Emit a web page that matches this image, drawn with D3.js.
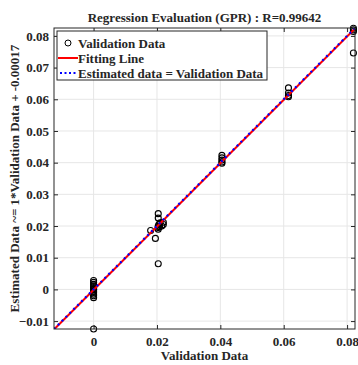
<!DOCTYPE html>
<html><head><meta charset="utf-8">
<script src="https://cdn.jsdelivr.net/npm/d3@7"></script>
<style>
html,body{margin:0;padding:0;background:#fff;}
svg text{font-family:"Liberation Serif","Times New Roman",serif;font-weight:bold;fill:#262626;}
</style></head>
<body><svg id="c" width="358" height="365"></svg>
<script>
// Validation (x) and estimated (y) values
const validation = [
  0,0,0,0,0,0,0,0,0,0,0,0,0,0,
  0.018,0.0195,0.0204,0.0204,0.0204,0.0204,0.0204,0.0204,0.0206,0.0208,0.021,0.022,0.022,0.0215,
  0.0405,0.0405,0.0405,0.0405,0.0405,
  0.0615,0.0615,0.0615,0.0615,
  0.082,0.082,0.082,0.082
];
const estimated = [
  0.0028,0.0022,0.0016,0.0011,0.0006,0.0002,-0.0002,-0.0006,-0.001,-0.0015,-0.002,-0.0026,0.0,-0.0125,
  0.0186,0.0161,0.0239,0.0225,0.0081,0.0195,0.0200,0.0190,0.0205,0.0198,0.0210,0.0212,0.0205,0.0200,
  0.0423,0.0415,0.0408,0.0402,0.0398,
  0.0636,0.0620,0.0612,0.0608,
  0.0824,0.0819,0.0814,0.0746
];
const xTicks = [0,0.02,0.04,0.06,0.08];
const yTicks = [-0.01,0,0.01,0.02,0.03,0.04,0.05,0.06,0.07,0.08];
const domain = [-0.0125,0.0825];
const fitSlope = 1, fitIntercept = -0.00017;
const titleText = "Regression Evaluation (GPR) : R=0.99642";
const xLabel = "Validation Data";
const yLabel = "Estimated Data ~= 1*Validation Data + -0.00017";
const legendItems = ["Validation Data","Fitting Line","Estimated data = Validation Data"];

const L=54, R=355, T=28, B=329;
const FS = 13;
const svg = d3.select("#c");
const x = d3.scaleLinear().domain(domain).range([L,R]);
const y = d3.scaleLinear().domain(domain).range([B,T]);
const axisCol = "#262626";

// grid
svg.append("g").selectAll("line").data(xTicks).join("line")
  .attr("x1",d=>x(d)).attr("x2",d=>x(d)).attr("y1",T).attr("y2",B)
  .attr("stroke","#e6e6e6").attr("stroke-width",1);
svg.append("g").selectAll("line").data(yTicks).join("line")
  .attr("y1",d=>y(d)).attr("y2",d=>y(d)).attr("x1",L).attr("x2",R)
  .attr("stroke","#e6e6e6").attr("stroke-width",1);

// axes
const fmt = d => d===0 ? "0" : d3.format(".2f")(d);
const ax = (g, axis) => { g.call(axis); g.select(".domain").remove(); g.selectAll("line").attr("stroke",axisCol); g.selectAll("text").attr("font-size",FS).attr("font-family","Liberation Serif").attr("font-weight","bold").attr("fill",axisCol); };
svg.append("g").attr("transform",`translate(0,${B})`).call(g=>ax(g, d3.axisBottom(x).tickValues(xTicks).tickFormat(fmt).tickSizeInner(-4).tickPadding(8)));
svg.append("g").attr("transform",`translate(0,${T})`).call(g=>{ax(g, d3.axisTop(x).tickValues(xTicks).tickSizeInner(-4).tickFormat("")); });
svg.append("g").attr("transform",`translate(${L},0)`).call(g=>ax(g, d3.axisLeft(y).tickValues(yTicks).tickFormat(fmt).tickSizeInner(-4).tickPadding(5)));
svg.append("g").attr("transform",`translate(${R},0)`).call(g=>{ax(g, d3.axisRight(y).tickValues(yTicks).tickSizeInner(-4).tickFormat("")); });

// clip
svg.append("clipPath").attr("id","clip").append("rect").attr("x",L).attr("y",T).attr("width",R-L).attr("height",B-T);

const lx = domain.slice();
const line = d3.line().x(d=>x(d[0])).y(d=>y(d[1]));

// data points
svg.append("g").selectAll("circle").data(validation.map((v,i)=>[v,estimated[i]])).join("circle")
  .attr("cx",d=>x(d[0])).attr("cy",d=>y(d[1])).attr("r",3)
  .attr("fill","none").attr("stroke","#000").attr("stroke-width",1.1);

// fit line
svg.append("path").attr("clip-path","url(#clip)")
  .attr("d",line(lx.map(v=>[v, fitSlope*v+fitIntercept])))
  .attr("stroke","#ff0000").attr("stroke-width",2).attr("fill","none");
// y = x dotted
svg.append("path").attr("clip-path","url(#clip)")
  .attr("d",line(lx.map(v=>[v,v])))
  .attr("stroke","#0000ff").attr("stroke-width",2.2).attr("stroke-dasharray","2,3.5").attr("fill","none");

// box
svg.append("rect").attr("x",L).attr("y",T).attr("width",R-L).attr("height",B-T)
  .attr("fill","none").attr("stroke",axisCol).attr("stroke-width",1);

// title & labels
svg.append("text").attr("x",(L+R)/2).attr("y",22).attr("text-anchor","middle").attr("font-size",FS).text(titleText);
svg.append("text").attr("x",(L+R)/2).attr("y",360).attr("text-anchor","middle").attr("font-size",FS).text(xLabel);
svg.append("text").attr("transform",`translate(19,${(T+B)/2}) rotate(-90)`).attr("text-anchor","middle").attr("font-size",FS).text(yLabel);

// legend
const lg = svg.append("g");
lg.append("rect").attr("x",57).attr("y",31).attr("width",210).attr("height",49)
  .attr("fill","#fff").attr("stroke",axisCol).attr("stroke-width",1);
const rows = [43,58,73];
lg.append("circle").attr("cx",68).attr("cy",rows[0]).attr("r",3).attr("fill","none").attr("stroke","#000");
lg.append("line").attr("x1",58).attr("x2",78).attr("y1",rows[1]).attr("y2",rows[1]).attr("stroke","#ff0000").attr("stroke-width",2);
lg.append("line").attr("x1",60).attr("x2",78).attr("y1",rows[2]).attr("y2",rows[2]).attr("stroke","#0000ff").attr("stroke-width",2).attr("stroke-dasharray","2,2.5");
legendItems.forEach((t,i)=>{
  lg.append("text").attr("x",78).attr("y",rows[i]+4.5).attr("font-size",FS).attr("fill","#000").text(t);
});
</script></body></html>
